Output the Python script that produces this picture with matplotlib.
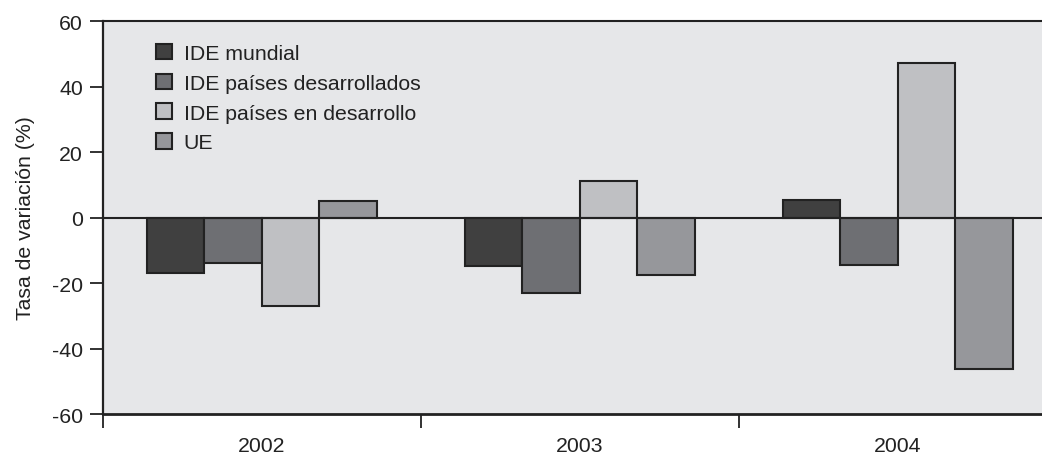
import matplotlib
matplotlib.use("Agg")
import matplotlib.pyplot as plt
import numpy as np

years = ["2002", "2003", "2004"]
series = ["IDE mundial", "IDE países desarrollados", "IDE países en desarrollo", "UE"]
ide_mundial = [-16.8, -14.9, 5.5]
ide_desarrollados = [-14.0, -23.0, -14.4]
ide_en_desarrollo = [-27.0, 11.0, 47.3]
ue = [4.9, -17.6, -46.4]
values = [ide_mundial, ide_desarrollados, ide_en_desarrollo, ue]
colors = ["#404040", "#6e6f73", "#bfc0c3", "#96979b"]

plt.rcParams["font.family"] = ["Liberation Sans", "DejaVu Sans"]
plt.rcParams["axes.unicode_minus"] = False

fs = 15.3
fig = plt.figure(figsize=(10.42, 4.56), dpi=100)
ax = fig.add_axes([0.0988, 0.0899, 0.9155, 0.8618])
ax.set_facecolor("#e6e7e9")

x = np.arange(len(years))
width = 0.181
for i, (name, vals, col) in enumerate(zip(series, values, colors)):
    ax.bar(x + (i - 1.5) * width, vals, width, color=col, edgecolor="#222222",
           linewidth=1.5, label=name, zorder=2)

ax.axhline(0, color="#222222", linewidth=1.5, zorder=3)

ax.set_xlim(-0.5, 2.5)
ax.set_ylim(-60, 60)
ax.set_yticks(np.arange(-60, 61, 20))
ax.set_xticks([-0.5, 0.5, 1.5, 2.5])
ax.set_xticklabels([])
ax.set_xticks(x, minor=True)
ax.set_xticklabels(years, minor=True)
ax.tick_params(axis="x", which="major", direction="out", length=10, width=1.3, color="#222222")
ax.tick_params(axis="x", which="minor", length=0, pad=15.5, labelsize=fs, labelcolor="#222222")
ax.tick_params(axis="y", direction="out", length=9.5, width=1.3, pad=5, labelsize=fs,
               color="#222222", labelcolor="#222222")

for side in ["left", "bottom", "top", "right"]:
    ax.spines[side].set_color("#222222")
ax.spines["left"].set_linewidth(1.6)
ax.spines["bottom"].set_linewidth(2.0)
ax.spines["top"].set_linewidth(1.5)

ax.set_ylabel("Tasa de variación (%)", fontsize=fs, color="#222222", labelpad=12)

ax.legend(loc="upper left", bbox_to_anchor=(0.0556, 0.942), frameon=False,
          fontsize=fs, handlelength=0.75, handleheight=0.75, handletextpad=0.55,
          labelspacing=0.5, borderpad=0, borderaxespad=0, labelcolor="#222222")

fig.savefig("out.png", dpi=100)
